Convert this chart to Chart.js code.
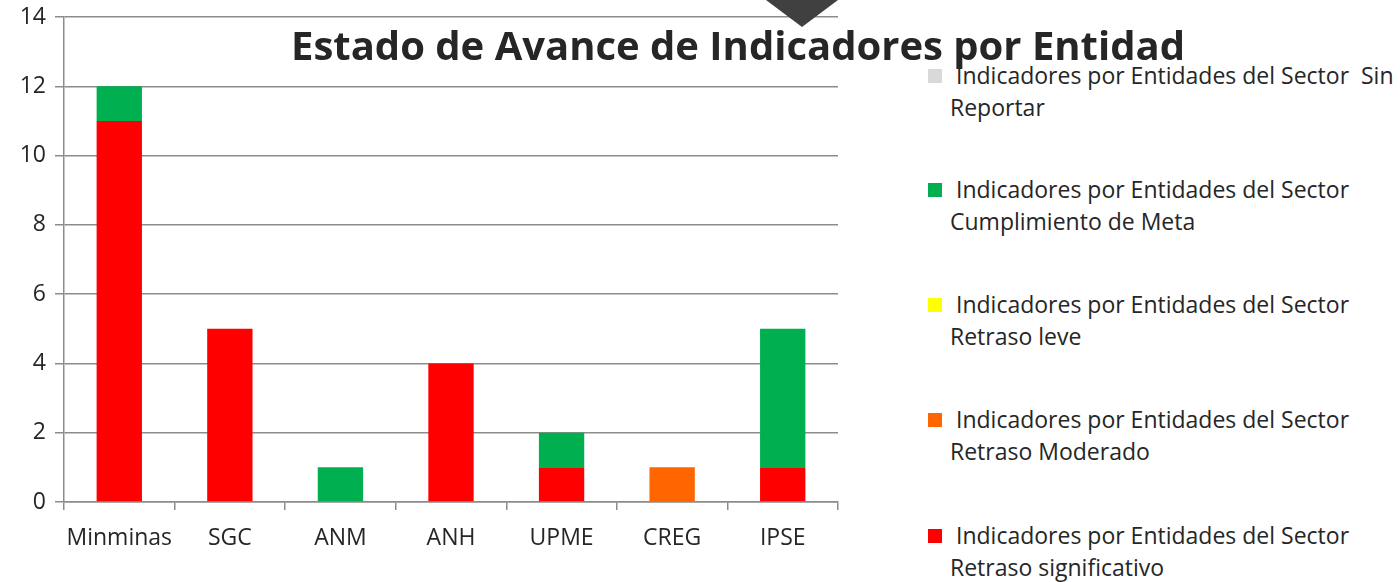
<!DOCTYPE html>
<html>
<head>
<meta charset="utf-8">
<script src="https://cdn.jsdelivr.net/npm/chart.js@4.4.1/dist/chart.umd.min.js"></script>
<style>
  html, body { margin:0; padding:0; background:#fff; width:1400px; height:582px; overflow:hidden; }
  #wrap { position:absolute; left:0; top:0; width:870px; height:582px; }
  #title { position:absolute; left:0; width:1476px; top:17px; text-align:center; font-family:"Open Sans", sans-serif; font-weight:bold; font-size:40px; line-height:normal; color:#262626; z-index:5; white-space:nowrap; }
  #tri { position:absolute; left:766px; top:0; width:0; height:0; border-left:36px solid transparent; border-right:36px solid transparent; border-top:27px solid #404040; z-index:4; }
  .leg { position:absolute; left:928px; font-family:"Open Sans", sans-serif; font-size:23px; color:#262626; line-height:32px; white-space:pre; z-index:3; }
  .sw { position:absolute; left:0; top:10px; width:14px; height:14px; }
  .tx { position:absolute; left:22px; top:0; }
</style>
</head>
<body>
<div id="wrap"><canvas id="c"></canvas></div>
<div id="tri"></div>
<div id="title"></div>
<div id="legend"></div>
<script>
const chartTitle = "Estado de Avance de Indicadores por Entidad";
const categories = ["Minminas", "SGC", "ANM", "ANH", "UPME", "CREG", "IPSE"];
const yTicks = [0, 2, 4, 6, 8, 10, 12, 14];

const seriesNames = [
  "Indicadores por Entidades del Sector  Sin Reportar",
  "Indicadores por Entidades del Sector Cumplimiento de Meta",
  "Indicadores por Entidades del Sector Retraso leve",
  "Indicadores por Entidades del Sector Retraso Moderado",
  "Indicadores por Entidades del Sector Retraso significativo"
];
const legendLines = [
  [" Indicadores por Entidades del Sector  Sin", "Reportar"],
  [" Indicadores por Entidades del Sector", "Cumplimiento de Meta"],
  [" Indicadores por Entidades del Sector", "Retraso leve"],
  [" Indicadores por Entidades del Sector", "Retraso Moderado"],
  [" Indicadores por Entidades del Sector", "Retraso significativo"]
];
const sinReportar        = [0, 0, 0, 0, 0, 0, 0];
const cumplimientoMeta   = [1, 0, 1, 0, 1, 0, 4];
const retrasoLeve        = [0, 0, 0, 0, 0, 0, 0];
const retrasoModerado    = [0, 0, 0, 0, 0, 1, 0];
const retrasoSignificativo = [11, 5, 0, 4, 1, 0, 1];

const seriesValues = [sinReportar, cumplimientoMeta, retrasoLeve, retrasoModerado, retrasoSignificativo];
const seriesColors = ["#D9D9D9", "#00B050", "#FFFF00", "#FF6600", "#FF0000"];

document.getElementById('title').textContent = chartTitle;

// HTML legend
const legendTops = [59, 173, 288, 403, 519];
const legendEl = document.getElementById('legend');
legendLines.forEach((lines, i) => {
  const d = document.createElement('div');
  d.className = 'leg';
  d.style.top = legendTops[i] + 'px';
  const sw = document.createElement('div');
  sw.className = 'sw';
  sw.style.background = seriesColors[i];
  const tx = document.createElement('div');
  tx.className = 'tx';
  tx.textContent = lines[0] + "\n" + lines[1];
  d.appendChild(sw); d.appendChild(tx);
  legendEl.appendChild(d);
});

// datasets: stack bottom to top = red, orange, yellow, green, gray
const order = [4, 3, 2, 1, 0];
const datasets = order.map(i => ({
  label: seriesNames[i],
  data: seriesValues[i],
  backgroundColor: seriesColors[i],
  borderWidth: 0,
  barPercentage: 0.41,
  categoryPercentage: 1.0
}));

const gridColor = '#8c8c8c';
const tickFont = { family: '"Open Sans", sans-serif', size: 23 };

new Chart(document.getElementById('c'), {
  type: 'bar',
  data: { labels: categories, datasets },
  options: {
    responsive: true,
    maintainAspectRatio: false,
    animation: false,
    layout: { padding: { top: 0, right: 32, left: 0, bottom: 0 } },
    plugins: { legend: { display: false }, title: { display: false }, tooltip: { enabled: false } },
    scales: {
      x: {
        stacked: true,
        grid: { display: true, drawOnChartArea: false, drawTicks: true, tickLength: 8, color: gridColor, lineWidth: 1.5, offset: true },
        border: { display: true, color: gridColor, width: 1.5 },
        ticks: { color: '#262626', font: tickFont, padding: 15, maxRotation: 0 },
        afterFit: s => { s.height = 80; }
      },
      y: {
        stacked: true,
        min: 0, max: 14,
        afterBuildTicks: s => { s.ticks = yTicks.map(v => ({ value: v })); },
        grid: { color: gridColor, lineWidth: 1.5, tickLength: 9 },
        border: { display: true, color: gridColor, width: 1.5 },
        ticks: { color: '#262626', font: tickFont, padding: 9 },
        afterFit: s => { s.width = 64; s.paddingTop = 17; }
      }
    }
  }
});
</script>
</body>
</html>
